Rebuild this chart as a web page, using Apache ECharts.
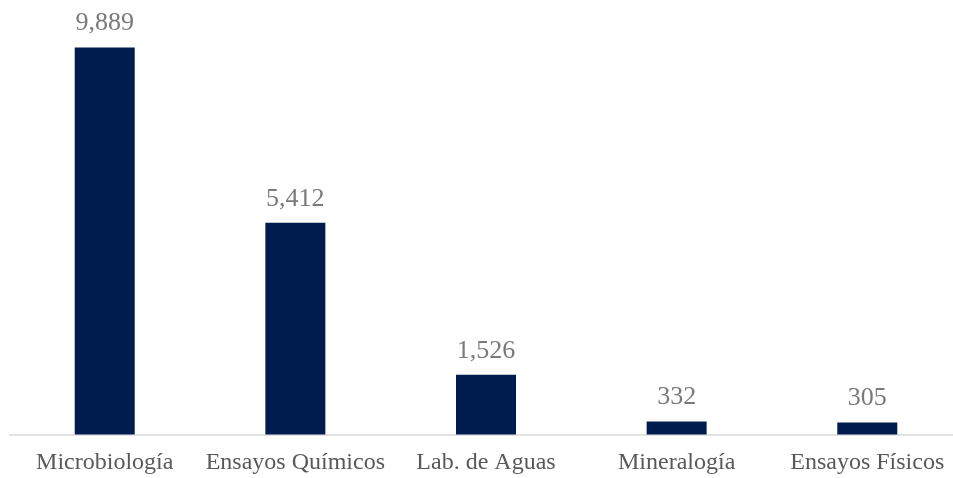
<!DOCTYPE html>
<html>
<head>
<meta charset="utf-8">
<script src="https://cdn.jsdelivr.net/npm/echarts@6/dist/echarts.min.js"></script>
<style>
  html, body { margin: 0; padding: 0; background: #fff; }
  #main { width: 953px; height: 478px; }
</style>
</head>
<body>
<div id="main"></div>
<script>
const categories = ['Microbiología', 'Ensayos Químicos', 'Lab. de Aguas', 'Mineralogía', 'Ensayos Físicos'];
const values = [9889, 5412, 1526, 332, 305];

const chart = echarts.init(document.getElementById('main'));
chart.setOption({
  animation: false,
  grid: {
    left: 9.4,
    right: -9.6,
    top: 47.5,
    bottom: 43.5,
    outerBoundsMode: 'none',
    containLabel: false
  },
  xAxis: {
    type: 'category',
    data: categories,
    axisLine: { lineStyle: { color: '#d9d9d9', width: 1.5 } },
    axisTick: { show: false },
    axisLabel: {
      interval: 0,
      margin: 16,
      color: '#595959',
      fontFamily: 'Liberation Serif',
      fontSize: 24
    }
  },
  yAxis: {
    type: 'value',
    min: 0,
    max: 9889,
    show: false,
    splitLine: { show: false }
  },
  series: [
    {
      type: 'bar',
      data: values,
      barWidth: 60,
      itemStyle: { color: '#001c4e' },
      label: {
        show: true,
        position: 'top',
        distance: 11,
        color: '#7a7a7a',
        fontFamily: 'Liberation Serif',
        fontSize: 26,
        formatter: p => p.value.toLocaleString('en-US')
      }
    }
  ]
});
</script>
</body>
</html>
